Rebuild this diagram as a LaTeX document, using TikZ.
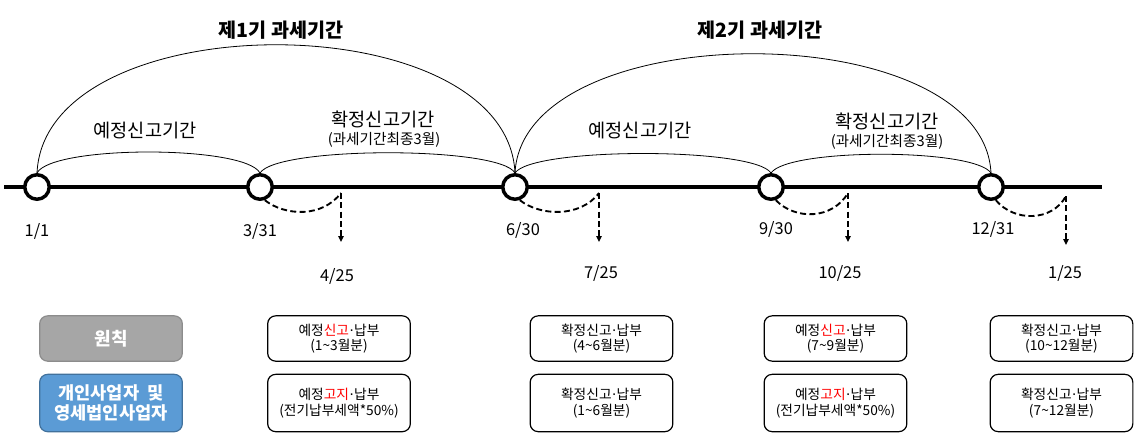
\documentclass[tikz,border=0pt]{standalone}
\usepackage{fontspec}
\setmainfont{Noto Sans CJK KR}
\newfontfamily\latinf{Noto Sans}
\usetikzlibrary{arrows.meta}
\definecolor{graybox}{HTML}{A6A6A6}
\definecolor{grayedge}{HTML}{8C8C8C}
\definecolor{bluebox}{HTML}{5B9BD5}
\definecolor{blueedge}{HTML}{41719C}
\newcommand{\fsz}[2]{\fontsize{#1}{#2}\selectfont}
\newcommand{\mdot}{{\latinf\kern0.5pt·\kern0.5pt}}
\begin{document}
\begin{tikzpicture}[x=0.75pt,y=-0.75pt,
  tickc/.style={circle,draw,line width=2.6pt,fill=white,minimum size=18.4pt,inner sep=0pt},
  mainline/.style={line width=2.5pt},
  arcline/.style={line width=0.6pt},
  dashline/.style={line width=1.4pt,dash pattern=on 4.5pt off 2.5pt},
  dasharrow/.style={dashline,-{Triangle[length=4.5pt,width=4pt]}},
  title/.style={font=\fsz{14.7}{17}\bfseries},
  period/.style={font=\fsz{14}{16}},
  periodsub/.style={font=\fsz{11}{13}},
  datel/.style={font=\fsz{12.3}{14}},
  box/.style={draw,rounded corners=6pt,line width=0.9pt,minimum width=107pt,align=center,inner sep=0pt,font=\fsz{10.3}{11.5}},
  row1/.style={minimum height=34pt},
  row2/.style={minimum height=43pt},
  graylbl/.style={box,fill=graybox,draw=grayedge,text=white,font=\fsz{13.5}{15}\bfseries},
  bluelbl/.style={box,fill=bluebox,draw=blueedge,text=white,font=\fsz{13.2}{15.5}\bfseries},
]
\useasboundingbox (0,0) rectangle (1137,439);

% main line
\coordinate (ls) at (4,187);
\coordinate (le) at (1102,187);
\draw[mainline] (ls) -- (le);

% circles
\node[tickc] (c1) at (37,187) {};
\node[tickc] (c2) at (260,187) {};
\node[tickc] (c3) at (515,187) {};
\node[tickc] (c4) at (771,187) {};
\node[tickc] (c5) at (991,187) {};

% big arcs
\draw[arcline] (c1.north) .. controls (45,2) and (507,2) .. (c3.north);
\draw[arcline] (c3.north) .. controls (523,14) and (983,14) .. (c5.north);

% small arcs
\draw[arcline] (c1.north) .. controls (52,145) and (245,145) .. (c2.north);
\draw[arcline] (c2.north) .. controls (277,146) and (500,146) .. (c3.north);
\draw[arcline] (c3.north) .. controls (532,147) and (754,147) .. (c4.north);
\draw[arcline] (c4.north) .. controls (788,148) and (974,148) .. (c5.north);

% titles
\node[title] (t1) at (281,30) {제1기 과세기간};
\node[title] (t2) at (760,30) {제2기 과세기간};

% period labels
\node[period] (p1) at (145,131) {예정신고기간};
\node[period] (f1) at (383,119) {확정신고기간};
\node[periodsub] (f1s) at (384,140) {(과세기간최종3월)};
\node[period] (p2) at (640,131) {예정신고기간};
\node[period] (f2) at (887,121) {확정신고기간};
\node[periodsub] (f2s) at (887,142) {(과세기간최종3월)};

% date labels
\node[datel] (d1) at (37,231) {1/1};
\node[datel] (d2) at (260,231) {3/31};
\node[datel] (d3) at (523,230) {6/30};
\node[datel] (d4) at (776,229) {9/30};
\node[datel] (d5) at (993,229) {12/31};

% due dates
\coordinate (a1) at (341,193); \coordinate (a1e) at (341,242);
\coordinate (a2) at (599,193); \coordinate (a2e) at (599,242);
\coordinate (a3) at (848,193); \coordinate (a3e) at (848,242);
\coordinate (a4) at (1066,196); \coordinate (a4e) at (1066,245);
\draw[dashline] (c2.-70) .. controls (285,216) and (322,218) .. (a1);
\draw[dashline] (c3.-70) .. controls (540,216) and (580,218) .. (a2);
\draw[dashline] (c4.-70) .. controls (795,220) and (832,220) .. (a3);
\draw[dashline] (c5.-70) .. controls (1014,222) and (1052,222) .. (a4);
\draw[dasharrow] (a1) -- (a1e);
\draw[dasharrow] (a2) -- (a2e);
\draw[dasharrow] (a3) -- (a3e);
\draw[dasharrow] (a4) -- (a4e);
\node[datel] (e1) at (337,276) {4/25};
\node[datel] (e2) at (601,273) {7/25};
\node[datel] (e3) at (840,273) {10/25};
\node[datel] (e4) at (1065,273) {1/25};

% boxes
\node[graylbl,row1] (g) at (111,338.5) {원칙};
\node[bluelbl,row2] (b) at (111,403) {개인사업자\ \ 및\\영세법인사업자};

\node[box,row1] (r11) at (339,338.5) {예정\textcolor{red}{신고}\mdot 납부\\(1\textasciitilde3월분)};
\node[box,row1] (r12) at (601.5,338.5) {확정신고\mdot 납부\\(4\textasciitilde6월분)};
\node[box,row1] (r13) at (835.5,338.5) {예정\textcolor{red}{신고}\mdot 납부\\(7\textasciitilde9월분)};
\node[box,row1] (r14) at (1061.5,338.5) {확정신고\mdot 납부\\(10\textasciitilde12월분)};

\node[box,row2] (r21) at (339,403) {예정\textcolor{red}{고지}\mdot 납부\\(전기납부세액*50\%)};
\node[box,row2] (r22) at (601.5,403) {확정신고\mdot 납부\\(1\textasciitilde6월분)};
\node[box,row2] (r23) at (835.5,403) {예정\textcolor{red}{고지}\mdot 납부\\(전기납부세액*50\%)};
\node[box,row2] (r24) at (1061.5,403) {확정신고\mdot 납부\\(7\textasciitilde12월분)};
\end{tikzpicture}
\end{document}
